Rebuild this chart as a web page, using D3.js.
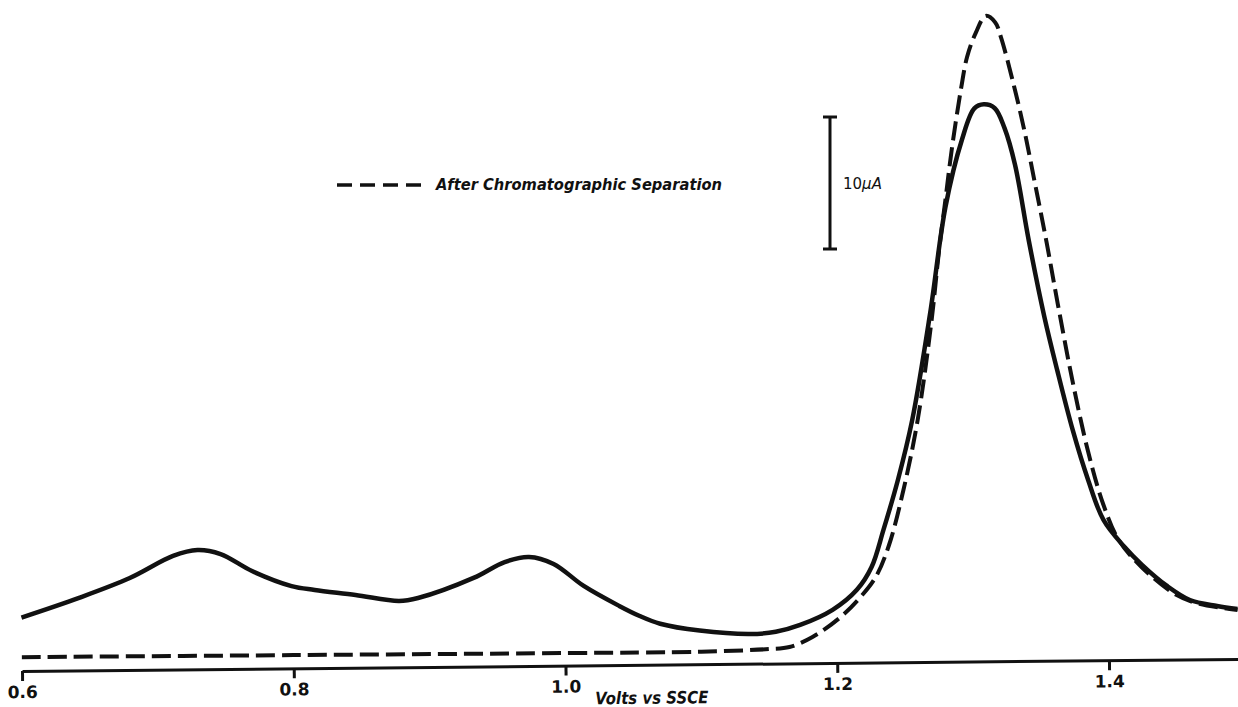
<!DOCTYPE html>
<html>
<head>
<meta charset="utf-8">
<script src="https://cdn.jsdelivr.net/npm/d3@7"></script>
<style>
  body { margin: 0; background: #fff; }
</style>
</head>
<body>
<div class="chart"></div>
<script>
// tick labels on the voltage axis
const tickValues = [0.6, 0.8, 1.0, 1.2, 1.4];
const tickLabels = ['0.6', '0.8', '1.0', '1.2', '1.4'];

// solid trace (before separation), volts / microamps
const solidVolts = [0.600, 0.642, 0.680, 0.712, 0.730, 0.747, 0.770, 0.799, 0.816, 0.846,
  0.878, 0.892, 0.933, 0.956, 0.974, 0.992, 1.014, 1.040, 1.055, 1.070, 1.099,
  1.136, 1.155, 1.173, 1.197, 1.215, 1.226, 1.235, 1.246, 1.257, 1.271, 1.283,
  1.2955, 1.305, 1.312, 1.320, 1.327, 1.3345, 1.344, 1.355, 1.364, 1.375,
  1.386, 1.397, 1.412, 1.425, 1.443, 1.460, 1.480, 1.495];
const solidCurrent = [4.05, 5.48, 6.96, 8.60, 9.03, 8.71, 7.40, 6.23, 5.92, 5.51,
  5.02, 5.23, 6.71, 7.89, 8.26, 7.71, 6.02, 4.48, 3.70, 3.10, 2.55,
  2.25, 2.40, 2.90, 4.02, 5.52, 7.24, 10.04, 13.81, 18.35, 26.44, 34.45,
  39.5, 41.9, 42.2, 41.9, 40.4, 37.6, 31.89, 26.05, 22.03, 17.47,
  13.67, 10.63, 8.6, 7.2, 5.6, 4.5, 4.03, 3.79];

// dashed trace (after chromatographic separation)
const dashedVolts = [0.600, 0.800, 1.000, 1.100, 1.150, 1.165, 1.182, 1.202, 1.217, 1.229,
  1.239, 1.250, 1.261, 1.272, 1.278, 1.283, 1.288, 1.2955, 1.300, 1.3065,
  1.314, 1.321, 1.325, 1.3345, 1.342, 1.349, 1.357, 1.365, 1.375, 1.386,
  1.397, 1.408, 1.425, 1.450, 1.467, 1.495];
const dashedCurrent = [1.05, 1.0, 0.95, 0.95, 1.1, 1.24, 1.98, 3.40, 4.90, 6.48,
  8.89, 13.05, 18.34, 25.91, 31.2, 34.98, 38.77, 43.5, 45.8, 47.6,
  48.9, 48.4, 47.3, 43.5, 40.0, 36.2, 31.8, 27.0, 21.3, 15.9,
  11.8, 9.1, 7.0, 4.9, 4.2, 3.7];

const legendLabel = 'After Chromatographic Separation';
const axisTitle = 'Volts vs SSCE';
const scaleBarValue = 10; // microamps

const width = 1238, height = 707;
const ink = '#111';

const svg = d3.select('.chart').append('svg')
  .attr('width', width)
  .attr('height', height);

const x = d3.scaleLinear().domain([0.6, 1.5]).range([22, 22 + 0.9 * 1358.75]);
const y = d3.scaleLinear().domain([0, 50]).range([671, 11]);

// recorder chart is a little tilted on the page
const plot = svg.append('g').attr('transform', 'rotate(-0.57, 22, 671)');

const axis = plot.append('g')
  .attr('transform', `translate(0,${y(0)})`)
  .call(d3.axisBottom(x)
    .tickValues(tickValues)
    .tickFormat((d, i) => tickLabels[i])
    .tickSize(10)
    .tickSizeOuter(0)
    .tickPadding(5));

axis.select('.domain').attr('stroke', ink).attr('stroke-width', 3);
axis.selectAll('.tick line').attr('stroke', ink).attr('stroke-width', 3);
axis.selectAll('.tick text')
  .attr('fill', ink)
  .style('font-family', '"DejaVu Sans", sans-serif')
  .style('font-weight', 'bold')
  .style('font-size', '17px');

plot.append('text')
  .attr('x', 595)
  .attr('y', y(0) + 39)
  .attr('textLength', 113)
  .attr('lengthAdjust', 'spacingAndGlyphs')
  .style('font-family', '"DejaVu Sans", sans-serif')
  .style('font-style', 'italic')
  .style('font-weight', 'bold')
  .style('font-size', '17px')
  .attr('fill', ink)
  .text(axisTitle);

const line = d3.line()
  .x(d => x(d[0]))
  .y(d => y(d[1]))
  .curve(d3.curveCatmullRom.alpha(0.5));

const solid = solidVolts.map((v, i) => [v, solidCurrent[i]]);
const dashed = dashedVolts.map((v, i) => [v, dashedCurrent[i]]);

plot.append('path')
  .datum(dashed)
  .attr('d', line)
  .attr('fill', 'none')
  .attr('stroke', ink)
  .attr('stroke-width', 4)
  .attr('stroke-dasharray', '19,7');

plot.append('path')
  .datum(solid)
  .attr('d', line)
  .attr('fill', 'none')
  .attr('stroke', ink)
  .attr('stroke-width', 4.5)
  .attr('stroke-linejoin', 'round');

// legend
const legend = svg.append('g');
legend.append('line')
  .attr('x1', 337).attr('x2', 428)
  .attr('y1', 185).attr('y2', 185)
  .attr('stroke', ink)
  .attr('stroke-width', 3.5)
  .attr('stroke-dasharray', '15,8');
legend.append('text')
  .attr('x', 436)
  .attr('y', 190)
  .attr('textLength', 286)
  .attr('lengthAdjust', 'spacingAndGlyphs')
  .style('font-family', '"DejaVu Sans", sans-serif')
  .style('font-style', 'italic')
  .style('font-weight', 'bold')
  .style('font-size', '16px')
  .attr('fill', ink)
  .text(legendLabel);

// 10 uA scale bar
const barLen = y(0) - y(scaleBarValue);
const bar = svg.append('g').attr('transform', 'translate(830,117)');
bar.append('line')
  .attr('x1', 0).attr('x2', 0).attr('y1', 0).attr('y2', barLen)
  .attr('stroke', ink).attr('stroke-width', 3);
[0, barLen].forEach(v => {
  bar.append('line')
    .attr('x1', -7).attr('x2', 7).attr('y1', v).attr('y2', v)
    .attr('stroke', ink).attr('stroke-width', 3);
});
const barText = bar.append('text')
  .attr('x', 13)
  .attr('y', barLen / 2 + 6)
  .style('font-family', '"DejaVu Sans", sans-serif')
  .style('font-size', '15px')
  .attr('fill', ink);
barText.append('tspan').text(scaleBarValue);
barText.append('tspan').style('font-style', 'italic').text('\u00b5A');
</script>
</body>
</html>
